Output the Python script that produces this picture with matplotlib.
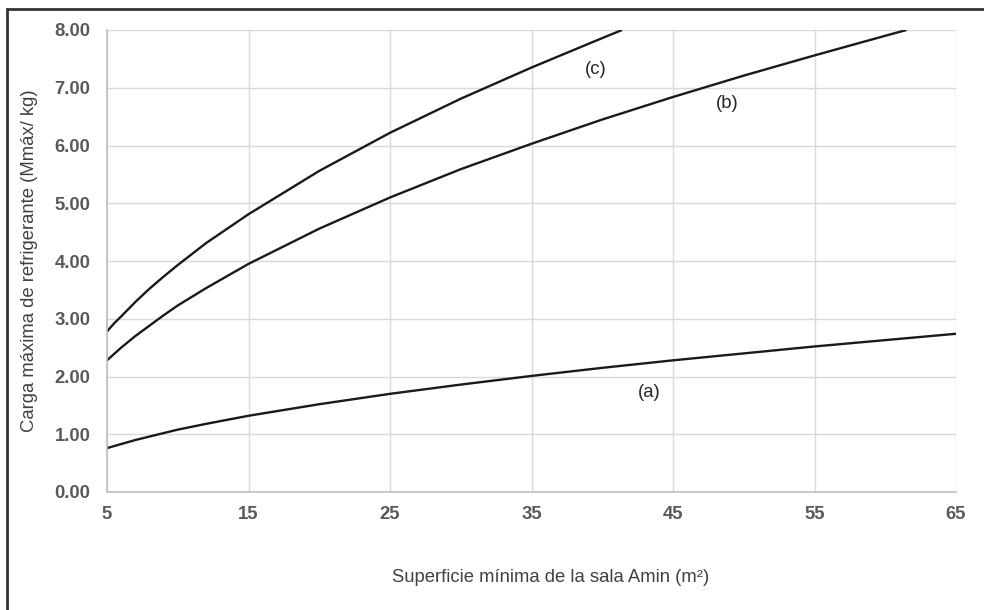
import matplotlib
matplotlib.use("Agg")
import matplotlib.pyplot as plt
from matplotlib.patches import Rectangle

plt.rcParams['font.family'] = ['Liberation Sans', 'DejaVu Sans']

# superficie (m2) y carga maxima (kg)
area_a = [5, 6, 7, 8, 10, 12, 15, 20, 25, 30, 35, 40, 45, 50, 55, 60, 65]
carga_a = [0.76, 0.83, 0.90, 0.96, 1.08, 1.18, 1.32, 1.52, 1.70, 1.86, 2.01, 2.15, 2.28, 2.40, 2.52, 2.63, 2.74]

area_b = [5, 5.5, 6, 7, 8, 9, 10, 12, 15, 20, 25, 30, 35, 40, 45, 50, 55, 60, 61.5]
carga_b = [2.28, 2.39, 2.50, 2.70, 2.88, 3.06, 3.23, 3.53, 3.95, 4.56, 5.10, 5.59, 6.03, 6.45, 6.84, 7.21, 7.56, 7.90, 8.00]

area_c = [5, 5.5, 6, 7, 8, 9, 10, 12, 15, 20, 25, 30, 35, 40, 41.4]
carga_c = [2.78, 2.92, 3.04, 3.29, 3.52, 3.73, 3.93, 4.31, 4.81, 5.56, 6.22, 6.81, 7.35, 7.86, 8.00]

xticks = [5, 15, 25, 35, 45, 55, 65]
yticks = [0, 1, 2, 3, 4, 5, 6, 7, 8]

fig = plt.figure(figsize=(9.84, 6.10), dpi=100)
ax = fig.add_axes([107/984, 1 - 492/610, (956 - 107)/984, (492 - 30)/610])

for x, y in [(area_a, carga_a), (area_b, carga_b), (area_c, carga_c)]:
    ax.plot(x, y, color='#1a1a1a', lw=1.7, solid_capstyle='butt')

ax.set_xlim(5, 65)
ax.set_ylim(0, 8)
ax.set_xticks(xticks)
ax.set_yticks(yticks)
ax.set_yticklabels([f"{v:.2f}" for v in yticks])
ax.tick_params(length=0, labelsize=13.3, labelcolor='#595959')
ax.tick_params(axis='y', pad=12)
ax.tick_params(axis='x', pad=10)
for lab in ax.get_xticklabels() + ax.get_yticklabels():
    lab.set_fontweight('bold')
ax.grid(True, color='#d9d9d9', lw=1)
ax.set_axisbelow(True)
for s in ['top', 'right']:
    ax.spines[s].set_visible(False)
for s in ['left', 'bottom']:
    ax.spines[s].set_color('#bfbfbf')
    ax.spines[s].set_linewidth(1.2)

ax.text(39.56, 7.31, "(c)", fontsize=13.3, color='#262626', ha='center', va='center')
ax.text(48.8, 6.72, "(b)", fontsize=13.3, color='#262626', ha='center', va='center')
ax.text(43.3, 1.73, "(a)", fontsize=13.3, color='#262626', ha='center', va='center')

fig.text(551/984, 1 - 577/610, "Superficie mínima de la sala Amin (m²)",
         fontsize=13.3, color='#404040', ha='center', va='center')
fig.text(30/984, 1 - 261/610, "Carga máxima de refrigerante (Mmáx/ kg)",
         fontsize=13.3, color='#404040', ha='center', va='center', rotation=90)

fig.patches.append(Rectangle((7/984, -0.1), 1.2, 1 - 9/610 + 0.1, transform=fig.transFigure,
                             fill=False, edgecolor='#333333', lw=2))

fig.savefig("out.png", dpi=100)
